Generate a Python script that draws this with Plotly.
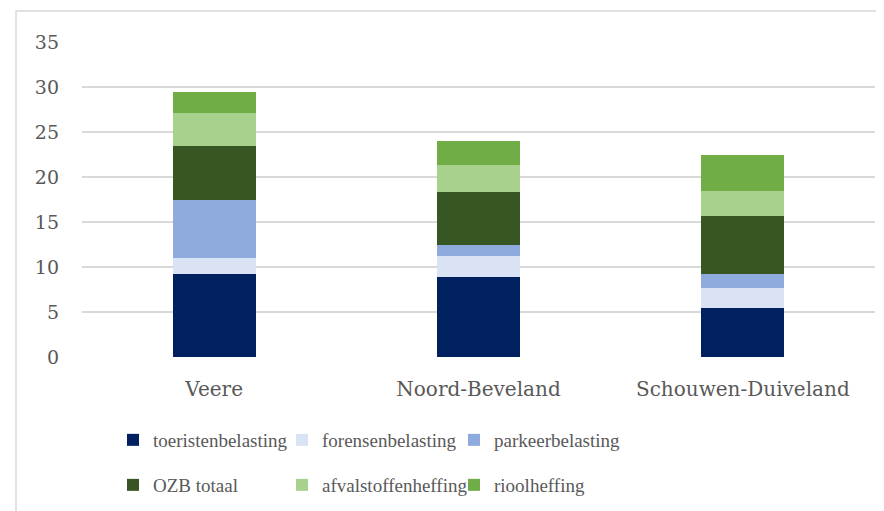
import plotly.graph_objects as go

gemeenten = ["Veere", "Noord-Beveland", "Schouwen-Duiveland"]

toeristenbelasting = [9.2, 8.9, 5.5]
forensenbelasting = [1.8, 2.35, 2.2]
parkeerbelasting = [6.5, 1.2, 1.5]
ozb_totaal = [6.0, 5.9, 6.5]
afvalstoffenheffing = [3.65, 3.0, 2.7]
rioolheffing = [2.35, 2.65, 4.1]

series = [
    ("toeristenbelasting", toeristenbelasting, "#002060"),
    ("forensenbelasting", forensenbelasting, "#DAE3F3"),
    ("parkeerbelasting", parkeerbelasting, "#8FAADC"),
    ("OZB totaal", ozb_totaal, "#375623"),
    ("afvalstoffenheffing", afvalstoffenheffing, "#A9D18E"),
    ("rioolheffing", rioolheffing, "#70AD47"),
]

GRIJS = "#595959"
# pagina heeft 8px body-marge: figuur iets kleiner maken
W, H = 876, 503

# legenda: 3 kolommen x 2 rijen, elk item een eigen legend
kolom_x = [105, 274, 446]
rij_y = [432, 477]

fig = go.Figure()
legends = {}
for i, (naam, waarden, kleur) in enumerate(series):
    key = "legend" if i == 0 else f"legend{i + 1}"
    fig.add_trace(go.Bar(x=gemeenten, y=waarden, name=naam, showlegend=True,
                         marker=dict(color=kleur, line_width=0), legend=key))
    legends[key] = dict(
        orientation="h", xref="container", yref="container",
        x=kolom_x[i % 3] / W, y=1 - rij_y[i // 3] / H,
        xanchor="left", yanchor="middle",
        font=dict(family="Liberation Serif", size=19, color=GRIJS),
        bgcolor="rgba(0,0,0,0)",
    )

fig.update_layout(
    barmode="stack",
    bargap=0.685,
    width=W, height=H,
    showlegend=True,
    paper_bgcolor="white", plot_bgcolor="white",
    margin=dict(l=74, r=9, t=34, b=154),
    font=dict(family="DejaVu Serif", color=GRIJS),
    shapes=[dict(type="rect", xref="paper", yref="paper",
                 x0=(8 - 74) / 793, x1=1.2, y0=-0.7, y1=(349 - 3) / 315,
                 line=dict(color="#d9d9d9", width=1.5), layer="below")],
    **legends,
)
fig.update_xaxes(tickfont=dict(size=20, color=GRIJS), showline=False,
                 ticklabelstandoff=18)
fig.update_yaxes(range=[0, 35], dtick=5, showgrid=True, gridcolor="#d9d9d9",
                 gridwidth=1.5, zeroline=False, tickfont=dict(size=19, color=GRIJS),
                 ticklabelstandoff=22)

fig.write_html("out.html")
